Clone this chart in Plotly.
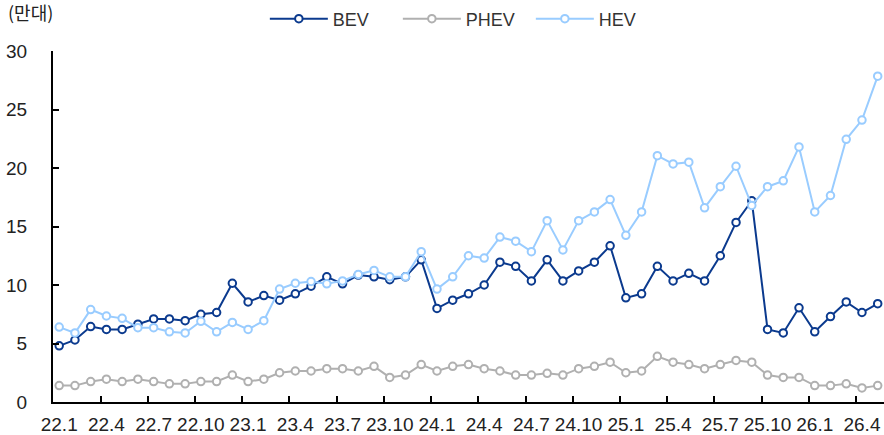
import plotly.graph_objects as go

months = []
for y in range(22, 27):
    for m in range(1, 13):
        months.append(f"{y}.{m}")
months = months[:53]  # 22.1 .. 26.5

bev = [4.8, 5.3, 6.45, 6.2, 6.2, 6.65, 7.1, 7.1, 6.95, 7.5, 7.65, 10.15,
       8.55, 9.1, 8.7, 9.25, 9.9, 10.7, 10.1, 10.85, 10.7, 10.45, 10.7, 12.15,
       8.0, 8.7, 9.25, 10.0, 11.95, 11.6, 10.35, 12.15, 10.35, 11.2, 11.95, 13.35,
       8.9, 9.25, 11.6, 10.35, 11.0, 10.35, 12.5, 15.35, 17.2, 6.2, 5.9, 8.05,
       6.0, 7.3, 8.55, 7.65, 8.4]
phev = [1.4, 1.4, 1.75, 1.95, 1.75, 1.95, 1.75, 1.55, 1.55, 1.75, 1.75, 2.3,
        1.75, 1.95, 2.5, 2.65, 2.65, 2.85, 2.85, 2.65, 3.05, 2.1, 2.3, 3.2,
        2.65, 3.05, 3.2, 2.85, 2.65, 2.3, 2.3, 2.45, 2.3, 2.85, 3.05, 3.4,
        2.5, 2.65, 3.9, 3.4, 3.2, 2.85, 3.2, 3.55, 3.4, 2.3, 2.1, 2.1,
        1.4, 1.4, 1.55, 1.2, 1.4]
hev = [6.4, 5.9, 7.9, 7.35, 7.15, 6.35, 6.35, 6.0, 5.9, 6.9, 6.0, 6.8,
       6.2, 6.95, 9.65, 10.15, 10.3, 10.1, 10.35, 10.9, 11.25, 10.7, 10.7, 12.85,
       9.65, 10.7, 12.5, 12.3, 14.1, 13.75, 12.85, 15.5, 13.0, 15.5, 16.25, 17.3,
       14.25, 16.25, 21.05, 20.35, 20.5, 16.6, 18.4, 20.15, 16.8, 18.4, 18.9, 21.8,
       16.25, 17.65, 22.45, 24.1, 27.85]

series = [("BEV", bev, "#0B3A8E"), ("PHEV", phev, "#B0B0B0"), ("HEV", hev, "#99CCFF")]

idx = list(range(len(months)))
label_pos = idx[::3]
label_txt = months[::3]

FONT = "Liberation Sans, Arial, sans-serif"

fig = go.Figure()
for name, vals, col in series:
    fig.add_trace(go.Scatter(
        x=idx, y=vals, name=name, mode="lines+markers",
        line=dict(color=col, width=2),
        marker=dict(symbol="circle", size=7.5, color="white",
                    line=dict(color=col, width=2)),
        cliponaxis=False,
    ))

fig.update_layout(
    width=884, height=435,
    margin=dict(l=53, r=0, t=51, b=33, autoexpand=False),
    plot_bgcolor="white", paper_bgcolor="white",
    font=dict(family=FONT, size=19, color="#222222"),
    showlegend=True,
    legend=dict(orientation="h", x=0.495, xanchor="center",
                y=1 - 19 / 435, yanchor="middle", yref="container",
                font=dict(size=18, color="#333333"),
                itemwidth=58, entrywidth=60, entrywidthmode="pixels",
                traceorder="normal"),
    xaxis=dict(
        range=[-0.394, 52.4], showgrid=False, zeroline=False, automargin=False,
        showline=True, linecolor="black", linewidth=2,
        tickmode="array", tickvals=label_pos, ticktext=label_txt,
        ticks="", tickangle=0, ticklabelstandoff=4,
        tickfont=dict(size=19, color="#222222"),
        minor=dict(tickmode="array", tickvals=[p - 0.37 for p in label_pos[1:]],
                   ticks="inside", ticklen=6, tickcolor="black", tickwidth=2,
                   showgrid=False),
    ),
    yaxis=dict(
        range=[0, 30], showgrid=False, zeroline=False, automargin=False,
        showline=True, linecolor="black", linewidth=2,
        tickmode="array", tickvals=[0, 5, 10, 15, 20, 25, 30],
        ticks="inside", ticklen=6, tickcolor="black", tickwidth=2,
        ticklabelstandoff=20,
        tickfont=dict(size=19, color="#222222"),
    ),
)

fig.add_annotation(text="(만대)", xref="paper", yref="paper", x=-0.056, y=1.0,
                   xanchor="left", yanchor="bottom", yshift=24, showarrow=False,
                   font=dict(family="Noto Sans CJK KR", size=18, color="#222222"))

fig.write_html("out.html", config={"displayModeBar": False},
               post_script="document.body.style.margin='0';document.body.style.overflow='hidden';")
